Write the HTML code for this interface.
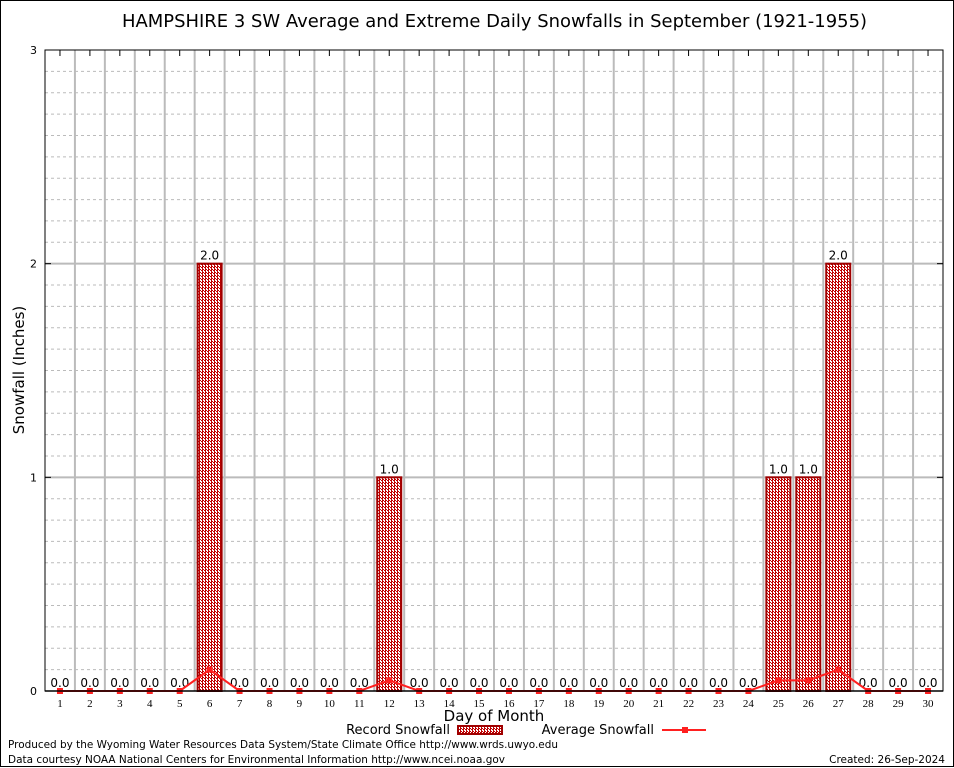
<!DOCTYPE html>
<html><head><meta charset="utf-8"><style>
body{margin:0;background:#fff}
svg{display:block;font-family:"DejaVu Sans","Liberation Sans",sans-serif}
</style></head><body>
<svg id="chart" width="954" height="768" viewBox="0 0 954 768" xmlns="http://www.w3.org/2000/svg">
<defs>
<pattern id="hatch" width="3" height="3" patternUnits="userSpaceOnUse">
<rect width="3" height="3" fill="#fff"/>
<rect width="2" height="1" fill="#c00000"/><rect x="1" y="1" width="1" height="2" fill="#c00000"/><rect x="2" y="2" width="1" height="1" fill="#c00000"/>
</pattern>
</defs>
<rect x="0.5" y="0.5" width="953" height="766" fill="#fff" stroke="#000"/>
<text x="122" y="27" font-size="18" textLength="745" lengthAdjust="spacingAndGlyphs">HAMPSHIRE 3 SW Average and Extreme Daily Snowfalls in September (1921-1955)</text>
<g id="grid"></g>
<g id="bars"></g>
<g id="avg"></g>
<g id="axes"></g>
<text x="24" y="370" font-size="15" text-anchor="middle" transform="rotate(-90 24 370)">Snowfall (Inches)</text>
<text x="494" y="721" font-size="15" text-anchor="middle">Day of Month</text>
<g>
<text x="450" y="734" font-size="13" text-anchor="end">Record Snowfall</text>
<rect x="458" y="726" width="44" height="8" fill="url(#hatch)" stroke="#a00000" stroke-width="2"/>
<text x="654" y="734" font-size="13" text-anchor="end">Average Snowfall</text>
<line x1="662" y1="730" x2="706" y2="730" stroke="#ff2020" stroke-width="2"/>
<rect x="682" y="727" width="6" height="6" fill="#ff2020"/>
</g>
<text x="8" y="748" font-size="10.5" textLength="550" lengthAdjust="spacingAndGlyphs">Produced by the Wyoming Water Resources Data System/State Climate Office http://www.wrds.uwyo.edu</text>
<text x="8" y="763" font-size="10.5" textLength="497" lengthAdjust="spacingAndGlyphs">Data courtesy NOAA National Centers for Environmental Information http://www.ncei.noaa.gov</text>
<text x="945" y="763" font-size="10.5" text-anchor="end">Created:  26-Sep-2024</text>
</svg>
<script>
const days=[1,2,3,4,5,6,7,8,9,10,11,12,13,14,15,16,17,18,19,20,21,22,23,24,25,26,27,28,29,30];
const recordVals=[0,0,0,0,0,2,0,0,0,0,0,1,0,0,0,0,0,0,0,0,0,0,0,0,1,1,2,0,0,0];
const avgVals=[0,0,0,0,0,0.1,0,0,0,0,0,0.05,0,0,0,0,0,0,0,0,0,0,0,0,0.05,0.05,0.1,0,0,0];
const yTicks=[0,1,2,3];
const NS="http://www.w3.org/2000/svg";
const L=45,R=943,T=50,B=691,yMax=3;
const step=(R-L)/30;
const xs=d=>L+step*(d-0.5);
const ys=v=>B-(B-T)*v/yMax;
function mk(p,tag,at){const e=document.createElementNS(NS,tag);for(const k in at)e.setAttribute(k,at[k]);p.appendChild(e);return e;}
const grid=document.getElementById('grid'),bars=document.getElementById('bars'),avg=document.getElementById('avg'),axes=document.getElementById('axes');
for(let i=1;i<yMax*10;i++){if(i%10===0)continue;const y=ys(i/10);
const g=mk(grid,'line',{x1:L,x2:R,y1:y,y2:y,stroke:'#bbb','stroke-dasharray':'3,3'});

}
for(let d=1;d<30;d++){const x=L+step*d;
const g=mk(grid,'line',{x1:x,x2:x,y1:T,y2:B,stroke:'#bbb','stroke-width':2});

}
yTicks.forEach(t=>{const y=ys(t);
if(t>0&&t<yMax){const g=mk(grid,'line',{x1:L,x2:R,y1:y,y2:y,stroke:'#bbb','stroke-width':2});

}
const tl=mk(axes,'text',{x:L-8,y:y+4,'font-size':11,'text-anchor':'end'});tl.textContent=t;


mk(axes,'line',{x1:L,x2:L+6,y1:y,y2:y,stroke:'#000'});mk(axes,'line',{x1:R-6,x2:R,y1:y,y2:y,stroke:'#000'});});
mk(axes,'rect',{x:L,y:T,width:R-L,height:B-T,fill:'none',stroke:'#000'});
days.forEach((d,i)=>{const x=xs(d);const v=recordVals[i];
if(v>0){const r=mk(bars,'rect',{x:x-12,y:ys(v),width:24,height:B-ys(v),fill:'url(#hatch)',stroke:'#a00000','stroke-width':2});

}
const lb=mk(bars,'text',{x:x,y:ys(v)-4,'font-size':12,'text-anchor':'middle'});lb.textContent=v.toFixed(1);


const tk=mk(axes,'text',{x:x,y:B+16,'font-size':11,'text-anchor':'middle','font-family':'Liberation Serif, serif'});tk.textContent=d;


mk(axes,'line',{x1:x,x2:x,y1:T,y2:T+6,stroke:'#000'});});
const pts=days.map((d,i)=>xs(d)+','+ys(avgVals[i])).join(' ');
const pl=mk(avg,'polyline',{points:pts,fill:'none',stroke:'#ff2020','stroke-width':2});


days.forEach((d,i)=>{const m=mk(avg,'rect',{x:xs(d)-3,y:ys(avgVals[i])-3,width:6,height:6,fill:'#ff2020'});

});
mk(axes,'line',{x1:L,x2:R,y1:B,y2:B,stroke:'#000','stroke-width':1.5});
</script>
</body></html>
